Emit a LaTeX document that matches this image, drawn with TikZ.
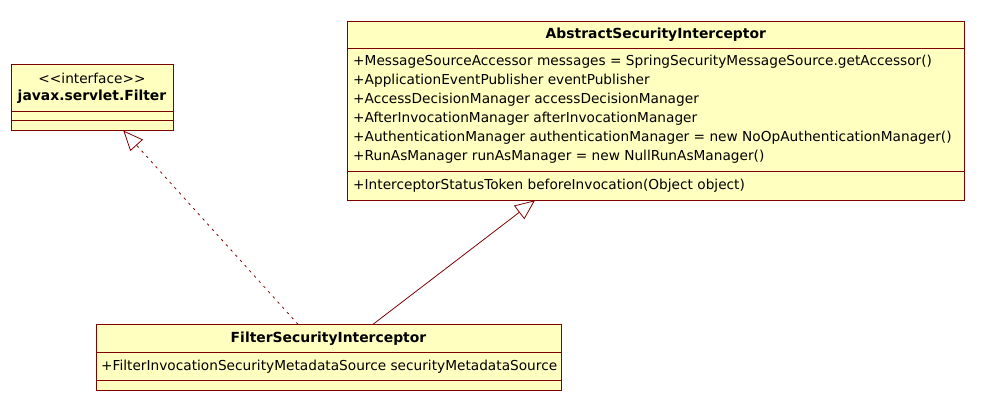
\documentclass[tikz,border=0pt]{standalone}
\usepackage{fontspec}
\setmainfont{DejaVu Sans}[Ligatures=TeXOff]
\usetikzlibrary{arrows.meta}
\definecolor{umlfill}{RGB}{255,255,192}
\definecolor{umlline}{RGB}{128,0,0}
\tikzset{
  classbox/.style={draw=umlline, fill=umlfill, line width=1pt, rectangle, anchor=north west, inner sep=0pt},
  sepline/.style={draw=umlline, line width=1pt},
  txt/.style={inner sep=0pt, font=\fontsize{13.7}{16}\selectfont, text=black},
  hdr/.style={txt, font=\fontsize{13.9}{16}\selectfont\bfseries},
  attr/.style={txt, anchor=west},
  realize/.style={draw=umlline, line width=0.8pt, dash pattern=on 2.5pt off 4.5pt, -{Triangle[open, length=20pt, width=17pt, fill=white, line width=0.8pt]}},
  inherit/.style={draw=umlline, line width=0.8pt, -{Triangle[open, length=20pt, width=17pt, fill=white, line width=0.8pt]}}
}
\begin{document}
\begin{tikzpicture}[x=1pt,y=-1pt]
\useasboundingbox (0,0) rectangle (995,409);
% javax.servlet.Filter
\node[classbox, minimum width=162pt, minimum height=65.7pt] (filter) at (11,64.3) {};
\node[txt] (filterst) at (92,78) {<<interface>>};
\node[hdr] (filtername) at (92,97) {javax.servlet.Filter};
\draw[sepline] (filter.west |- 0,111.7) -- (filter.east |- 0,111.7);
\draw[sepline] (filter.west |- 0,120.7) -- (filter.east |- 0,120.7);
% AbstractSecurityInterceptor
\node[classbox, minimum width=617pt, minimum height=179.3pt] (asi) at (347.3,20.7) {};
\node[hdr] (asiname) at (655.8,34.5) {AbstractSecurityInterceptor};
\draw[sepline] (asi.west |- 0,48.3) -- (asi.east |- 0,48.3);
\node[attr] (a1) at (353,62) {+MessageSourceAccessor messages = SpringSecurityMessageSource.getAccessor()};
\node[attr] (a2) at (353,81) {+ApplicationEventPublisher eventPublisher};
\node[attr] (a3) at (353,100) {+AccessDecisionManager accessDecisionManager};
\node[attr] (a4) at (353,119) {+AfterInvocationManager afterInvocationManager};
\node[attr] (a5) at (353,138) {+AuthenticationManager authenticationManager = new NoOpAuthenticationManager()};
\node[attr] (a6) at (353,157) {+RunAsManager runAsManager = new NullRunAsManager()};
\draw[sepline] (asi.west |- 0,171.7) -- (asi.east |- 0,171.7);
\node[attr] (m1) at (353,186) {+InterceptorStatusToken beforeInvocation(Object object)};
% FilterSecurityInterceptor
\node[classbox, minimum width=465.6pt, minimum height=66pt] (fsi) at (95.7,324.3) {};
\node[hdr] (fsiname) at (328.5,338.5) {FilterSecurityInterceptor};
\draw[sepline] (fsi.west |- 0,352.7) -- (fsi.east |- 0,352.7);
\node[attr] (f1) at (101,366.5) {+FilterInvocationSecurityMetadataSource securityMetadataSource};
\draw[sepline] (fsi.west |- 0,380.7) -- (fsi.east |- 0,380.7);
% connectors
\coordinate (fsiTopL) at (298,324.3);
\coordinate (fsiTopR) at (373,324.3);
\coordinate (filterTip) at (123.3,130.5);
\coordinate (asiTip) at (535,200.3);
\draw[realize] (fsiTopL) -- (filterTip);
\draw[inherit] (fsiTopR) -- (asiTip);
\end{tikzpicture}
\end{document}
